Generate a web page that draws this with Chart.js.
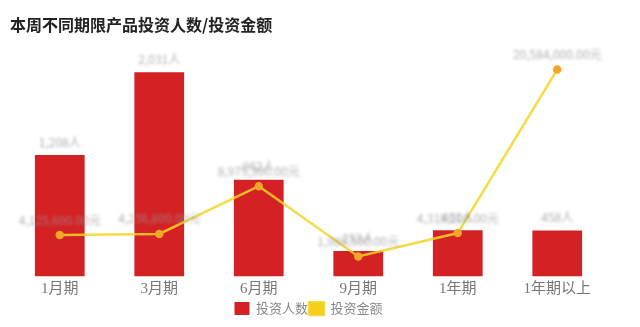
<!DOCTYPE html>
<html>
<head>
<meta charset="utf-8">
<script src="https://cdn.jsdelivr.net/npm/chart.js@4"></script>
<style>
  html, body { margin: 0; padding: 0; background: #fff; }
  #wrap { width: 640px; height: 327px; }
</style>
</head>
<body>
<div id="wrap"><canvas id="myChart"></canvas></div>
<script>
// data (value labels are blurred, so these are estimates)
var categories = ['1月期', '3月期', '6月期', '9月期', '1年期', '1年期以上'];
var investors = [1208, 2031, 962, 253, 461, 458];          // 投资人数
var amounts = [4125600, 4236800, 8975300, 1986500, 4318200, 20584000]; // 投资金额 (元)
var seriesNames = ['投资人数', '投资金额'];

// light, blurred value labels like the reference
var valueLabels = {
    id: 'valueLabels',
    afterDatasetsDraw: function(chart) {
        var ctx = chart.ctx;
        ctx.save();
        ctx.filter = 'blur(1.5px)';
        ctx.font = '12px "Noto Sans CJK SC", sans-serif';
        ctx.textAlign = 'center';
        ctx.textBaseline = 'bottom';
        chart.data.datasets.forEach(function(ds, i) {
            var meta = chart.getDatasetMeta(i);
            meta.data.forEach(function(el, j) {
                var v = ds.data[j];
                var txt = ds.type == 'line' ? v.toLocaleString('en-US') + '.00元' : v.toLocaleString('en-US') + '人';
                ctx.fillStyle = 'rgba(150,150,150,0.75)';
                ctx.fillText(txt, el.x, el.y - (ds.type == 'line' ? 9 : 7));
            });
        });
        ctx.restore();
    }
};

var ctx = document.getElementById('myChart');
new Chart(ctx, {
    type: 'bar',
    data: {
        labels: categories,
        datasets: [{
            type: 'line',
            label: seriesNames[1],
            data: amounts,
            yAxisID: 'y2',
            borderColor: 'rgba(245, 213, 40, 0.85)',
            backgroundColor: '#f5cf1c',
            borderWidth: 2.5,
            pointRadius: 3,
            pointBackgroundColor: '#f4a62a',
            pointBorderColor: '#f4a62a',
            tension: 0,
            order: 0
        }, {
            label: seriesNames[0],
            data: investors,
            yAxisID: 'y',
            backgroundColor: '#d42124',
            categoryPercentage: 1,
            barPercentage: 0.5,
            order: 1
        }]
    },
    options: {
        responsive: true,
        maintainAspectRatio: false,
        animation: false,
        layout: { padding: { left: 10, right: 33, top: 15, bottom: 2 } },
        plugins: {
            title: {
                display: true,
                text: '本周不同期限产品投资人数/投资金额',
                align: 'start',
                color: '#222',
                font: { size: 16, weight: 'bold', family: '"Noto Sans CJK SC", sans-serif' },
                padding: { top: 0, bottom: 8 }
            },
            legend: {
                position: 'bottom',
                reverse: true,
                labels: {
                    boxWidth: 15,
                    boxHeight: 13,
                    color: '#888',
                    padding: 1,
                    font: { size: 13, family: '"Noto Sans CJK SC", sans-serif' }
                }
            },
            tooltip: { enabled: false }
        },
        scales: {
            x: {
                grid: { display: false, drawTicks: false },
                border: { display: false },
                ticks: {
                    color: '#777',
                    padding: 4,
                    font: { size: 15, lineHeight: 1.1, family: '"Liberation Serif", "Noto Sans CJK SC", serif' }
                }
            },
            y: { display: false, min: 0, max: 2330 },
            y2: { display: false, min: 0, max: 23300000 }
        }
    },
    plugins: [valueLabels]
});
</script>
</body>
</html>
